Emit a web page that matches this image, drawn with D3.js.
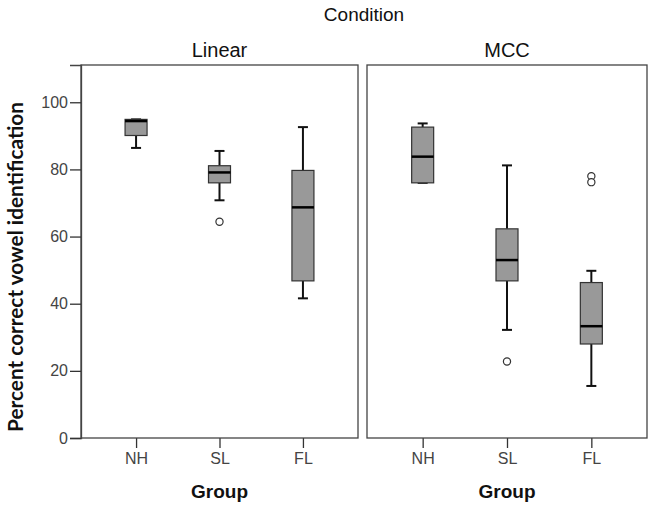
<!DOCTYPE html>
<html><head><meta charset="utf-8">
<script src="https://cdn.jsdelivr.net/npm/d3@7"></script>
<style>body{margin:0;background:#fff}svg{display:block}</style>
</head><body>
<svg id="chart" width="655" height="510"></svg>
<script>
const groups = ["NH", "SL", "FL"];
const conditions = ["Linear", "MCC"];
const yTicks = [0, 20, 40, 60, 80, 100];

const linearLow = [86.4, 70.8, 41.6];
const linearQ1 = [90.1, 76.0, 46.8];
const linearMedian = [94.4, 79.1, 68.7];
const linearQ3 = [94.9, 81.1, 79.7];
const linearHigh = [94.9, 85.5, 92.6];
const linearOutliers = [[], [64.4], []];

const mccLow = [76.0, 32.2, 15.5];
const mccQ1 = [76.0, 46.8, 28.0];
const mccMedian = [83.8, 53.0, 33.3];
const mccQ3 = [92.6, 62.3, 46.3];
const mccHigh = [93.7, 81.2, 49.8];
const mccOutliers = [[], [22.8], [78.0, 76.2]];

(function () {
const stats = {
  Linear: groups.map((g, i) => ({g, lo: linearLow[i], q1: linearQ1[i], med: linearMedian[i], q3: linearQ3[i], hi: linearHigh[i], out: linearOutliers[i]})),
  MCC: groups.map((g, i) => ({g, lo: mccLow[i], q1: mccQ1[i], med: mccMedian[i], q3: mccQ3[i], hi: mccHigh[i], out: mccOutliers[i]}))
};

const svg = d3.select("#chart");
const font = "'Liberation Sans', Arial, sans-serif";
const plotTop = 65, plotBottom = 438;
const panels = [{c: conditions[0], x0: 81, x1: 358}, {c: conditions[1], x0: 367, x1: 647}];
const y = d3.scaleLinear().domain([0, 111.1]).range([plotBottom, plotTop]);

svg.append("text").attr("x", 364).attr("y", 21).attr("text-anchor", "middle")
  .style("font-family", font).style("font-size", "19px").attr("fill", "#111").text("Condition");

panels.forEach(p => {
  const x = d3.scalePoint().domain(groups).range([p.x0, p.x1]).padding(0.66);
  const g = svg.append("g");

  g.append("text").attr("x", (p.x0 + p.x1) / 2).attr("y", 57).attr("text-anchor", "middle")
    .style("font-family", font).style("font-size", "20px").attr("fill", "#111").text(p.c);

  const xa = g.append("g").attr("transform", `translate(0,${plotBottom})`)
    .call(d3.axisBottom(x).tickSize(10).tickPadding(5));
  xa.select(".domain").remove();
  xa.selectAll(".tick line").attr("stroke", "#333").attr("stroke-width", 1.3);
  xa.selectAll(".tick text").style("font-family", font).style("font-size", "16px").attr("fill", "#444");

  g.append("text").attr("x", (p.x0 + p.x1) / 2).attr("y", 498).attr("text-anchor", "middle")
    .style("font-family", font).style("font-size", "19px").style("font-weight", "bold").attr("fill", "#111").text("Group");

  g.append("rect").attr("x", p.x0).attr("y", plotTop).attr("width", p.x1 - p.x0).attr("height", plotBottom - plotTop)
    .attr("fill", "none").attr("stroke", "#444").attr("stroke-width", 1.3);

  const bw = 22, cw = 10;
  stats[p.c].forEach(d => {
    const cx = x(d.g);
    g.append("line").attr("x1", cx).attr("x2", cx).attr("y1", y(d.hi)).attr("y2", y(d.q3)).attr("stroke", "#111").attr("stroke-width", 2);
    g.append("line").attr("x1", cx).attr("x2", cx).attr("y1", y(d.q1)).attr("y2", y(d.lo)).attr("stroke", "#111").attr("stroke-width", 2);
    [d.hi, d.lo].forEach(v => g.append("line").attr("x1", cx - cw / 2).attr("x2", cx + cw / 2)
      .attr("y1", y(v)).attr("y2", y(v)).attr("stroke", "#111").attr("stroke-width", 2));
    g.append("rect").attr("x", cx - bw / 2).attr("y", y(d.q3)).attr("width", bw).attr("height", y(d.q1) - y(d.q3))
      .attr("fill", "#999").attr("stroke", "#333").attr("stroke-width", 1.2);
    g.append("line").attr("x1", cx - bw / 2).attr("x2", cx + bw / 2).attr("y1", y(d.med)).attr("y2", y(d.med))
      .attr("stroke", "#000").attr("stroke-width", 2.5);
    d.out.forEach(v => g.append("circle").attr("cx", cx).attr("cy", y(v)).attr("r", 3.6)
      .attr("fill", "#fff").attr("stroke", "#333").attr("stroke-width", 1.2));
  });
});

const ya = svg.append("g").attr("transform", `translate(81,0)`)
  .call(d3.axisLeft(y).tickValues(yTicks).tickSize(11).tickPadding(2));
ya.select(".domain").attr("stroke", "#444").attr("stroke-width", 1.3);
ya.selectAll(".tick line").attr("stroke", "#333").attr("stroke-width", 1.3);
ya.selectAll(".tick text").style("font-family", font).style("font-size", "16px").attr("fill", "#444");

const yt = svg.append("text").attr("transform", "translate(23,267) rotate(-90)").attr("text-anchor", "middle")
  .style("font-family", "Lato, 'Open Sans', sans-serif").style("font-weight", "bold").style("font-size", "20px")
  .attr("fill", "#111").text("Percent correct vowel identification");
const len = yt.node().getComputedTextLength();
yt.style("font-size", (20 * 330 / len).toFixed(2) + "px");
})();
</script>
</body></html>
